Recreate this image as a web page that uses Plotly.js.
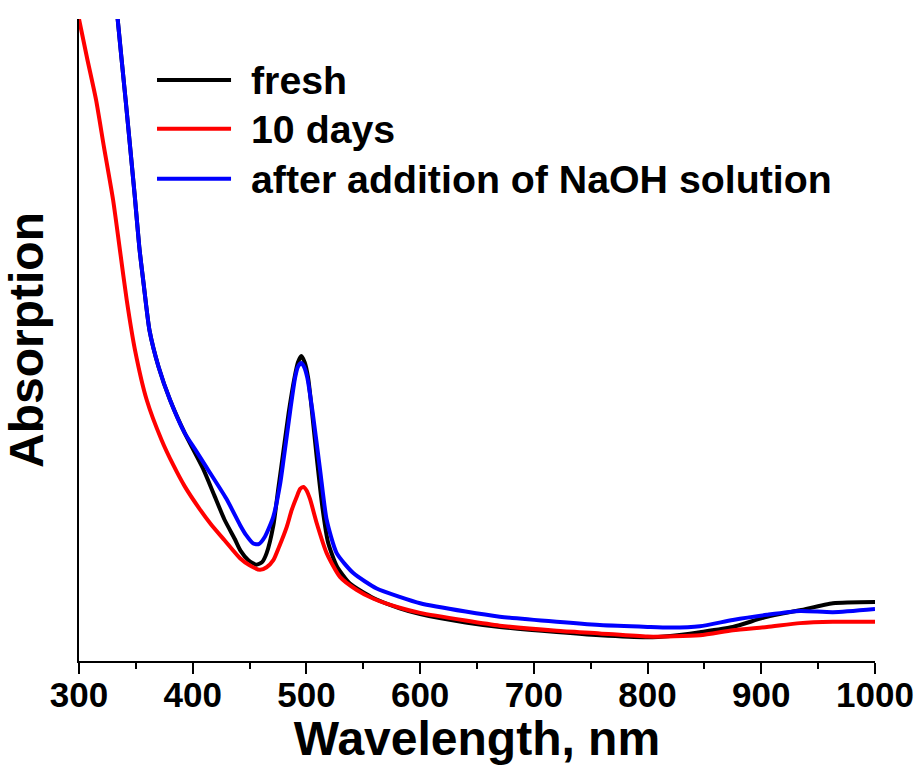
<!DOCTYPE html>
<html>
<head>
<meta charset="utf-8">
<script src="https://cdn.plot.ly/plotly-3.0.1.min.js"></script>
<style>html,body{margin:0;padding:0;background:#fff;}#chart{width:920px;height:765px;}</style>
</head>
<body>
<div id="chart"></div>
<script>
// ---- data ----
const seriesNames = ["fresh", "10 days", "after addition of NaOH solution"];
const seriesColors = ["#000000", "#ff0000", "#0000ff"];

const wlFresh = [300,310,320,328,334,341,349,353,357,362,370,380,393,409,419,428,437,442,449,456,461,465,471,475,480,484.5,489.5,492.5,495.5,498.5,501.5,504.5,509,514,519,526.6,538,558.8,582,600,640,670,720,758,800,820,846,875,905,934,963,1000];
const absFresh = [1.9,1.6,1.32,1.13,1.0,0.874,0.725,0.645,0.585,0.515,0.458,0.407,0.355,0.300,0.258,0.220,0.190,0.172,0.157,0.150,0.154,0.168,0.212,0.265,0.330,0.388,0.441,0.465,0.475,0.465,0.441,0.395,0.318,0.240,0.185,0.148,0.121,0.098,0.082,0.073,0.060,0.053,0.045,0.040,0.037,0.039,0.045,0.053,0.069,0.079,0.090,0.092];

const wl10Days = [300,307,315,322,330,336,342,349.3,359.5,372.7,383,393,406,416,428,441.6,450,459.2,465,470.9,476,482.7,487,491.5,494.5,497.3,500,503.2,509,517.8,529.5,544,559,582,600,640,670,720,758,800,846,875,905,934,963,1000];
const abs10Days = [1.0,0.94,0.874,0.80,0.718,0.640,0.562,0.484,0.407,0.344,0.305,0.272,0.237,0.213,0.188,0.160,0.149,0.142,0.146,0.157,0.178,0.209,0.235,0.256,0.268,0.271,0.266,0.252,0.215,0.168,0.131,0.111,0.097,0.083,0.075,0.063,0.055,0.047,0.043,0.038,0.040,0.048,0.053,0.059,0.061,0.061];

const wlNaOH = [300,310,320,328,334,341,349,353,357,362,370,380,393,402,412,429.5,441.6,447,453.3,458,463.6,470.9,476.8,480,485.6,490,492.5,495.3,498,500.8,505.4,512,517.8,526.6,541.2,561.8,582,600,640,670,720,758,800,820,846,875,905,934,963,1000];
const absNaOH = [1.9,1.6,1.32,1.13,1.0,0.874,0.725,0.645,0.585,0.515,0.458,0.407,0.355,0.330,0.302,0.253,0.212,0.196,0.183,0.182,0.194,0.225,0.275,0.315,0.388,0.441,0.458,0.464,0.458,0.441,0.388,0.298,0.220,0.168,0.137,0.113,0.100,0.090,0.077,0.069,0.061,0.056,0.053,0.052,0.054,0.064,0.072,0.078,0.076,0.081];

const xTickVals = [300,400,500,600,700,800,900,1000];
const xTickText = ["300","400","500","600","700","800","900","1000"];

const FONT = "Liberation Sans, Arial, sans-serif";

const xs = [wlFresh, wl10Days, wlNaOH];
const ys = [absFresh, abs10Days, absNaOH];

const traces = xs.map((x, i) => ({
  x: x, y: ys[i], type: "scatter", mode: "lines", name: seriesNames[i],
  line: {color: seriesColors[i], width: 4, shape: "spline", smoothing: 0.6},
  showlegend: false, hoverinfo: "skip"
}));

// legend built from the series arrays (longer line samples as in the reference)
const legendY = [0.905, 0.829, 0.751];
const shapes = [];
const annotations = [];
seriesNames.forEach((n, i) => {
  shapes.push({type: "line", xref: "paper", yref: "paper", x0: 0.098, x1: 0.191, y0: legendY[i], y1: legendY[i],
    line: {color: seriesColors[i], width: 4}});
  annotations.push({xref: "paper", yref: "paper", x: 0.213, y: legendY[i], xanchor: "left", yanchor: "middle",
    text: n, showarrow: false, font: {family: FONT, size: 39.3, color: "#000", weight: "bold"}});
});

const layout = {
  width: 920, height: 765,
  margin: {l: 79, r: 45, t: 19, b: 104},
  paper_bgcolor: "#fff", plot_bgcolor: "#fff",
  showlegend: false,
  font: {family: FONT, color: "#000"},
  xaxis: {
    range: [300, 1000], tickmode: "array", tickvals: xTickVals, ticktext: xTickText,
    ticks: "outside", ticklen: 11, tickwidth: 2, tickcolor: "#000",
    ticklabelstandoff: -9,
    showline: true, linewidth: 2, linecolor: "#000", mirror: false,
    showgrid: false, zeroline: false,
    tickfont: {family: FONT, size: 35, color: "#000", weight: "bold"},
    minor: {dtick: 50, tick0: 300, ticks: "outside", ticklen: 6, tickwidth: 2, tickcolor: "#000", showgrid: false},
    title: {text: "Wavelength, nm", font: {family: FONT, size: 48, color: "#000", weight: "bold"}, standoff: 11}
  },
  yaxis: {
    range: [0, 1], showticklabels: false, ticks: "",
    showline: true, linewidth: 2, linecolor: "#000",
    showgrid: false, zeroline: false,
    title: {text: "Absorption", font: {family: FONT, size: 48, color: "#000", weight: "bold"}, standoff: 20}
  },
  shapes: shapes,
  annotations: annotations
};

Plotly.newPlot("chart", traces, layout, {staticPlot: true, displayModeBar: false});
</script>
</body>
</html>
